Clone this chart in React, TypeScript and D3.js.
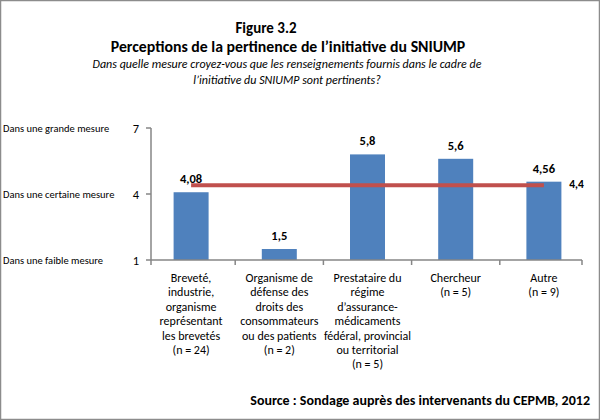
import React from "react";
import * as d3 from "d3";

const categories: string[][] = [
  ["Breveté,", "industrie,", "organisme", "représentant", "les brevetés", "(n = 24)"],
  ["Organisme de", "défense des", "droits des", "consommateurs", "ou des patients", "(n = 2)"],
  ["Prestataire du", "régime", "d’assurance-", "médicaments", "fédéral, provincial", "ou territorial", "(n = 5)"],
  ["Chercheur", "(n = 5)"],
  ["Autre", "(n = 9)"],
];
const values: number[] = [4.08, 1.5, 5.8, 5.6, 4.56];
const valueLabels: string[] = ["4,08", "1,5", "5,8", "5,6", "4,56"];
const average = 4.4;
const averageLabel = "4,4";
const yTicks: number[] = [1, 4, 7];
const yTickNames: string[] = ["Dans une faible mesure", "Dans une certaine mesure", "Dans une grande mesure"];

const FONT = "Carlito, Calibri, 'Liberation Sans', 'DejaVu Sans', sans-serif";

export default function App() {
  const W = 600, H = 420;
  const axisX0 = 151, axisX1 = 582;
  const x = d3.scaleBand<number>().domain(d3.range(values.length)).range([147, 588]).padding(0);
  const y = d3.scaleLinear().domain([1, 7]).range([260, 128]);
  const step = x.bandwidth();
  const bw = 35;
  const cx = (i: number) => (x(i) as number) + step / 2;

  return (
    <svg width={W} height={H} style={{ position: "absolute", left: 0, top: 0, background: "#fff" }} fontFamily={FONT}>
      <rect x={0.5} y={0.5} width={W - 1} height={H - 1} fill="#fff" stroke="#8c8c8c" strokeWidth={1.5} />
      <text x={266} y={33} textAnchor="middle" fontWeight="bold" fontSize={15}>Figure 3.2</text>
      <text x={288} y={52} textAnchor="middle" fontWeight="bold" fontSize={15.8}>Perceptions de la pertinence de l’initiative  du SNIUMP</text>
      <text x={287} y={68} textAnchor="middle" fontStyle="italic" fontSize={12}>Dans quelle mesure croyez-vous que les renseignements fournis dans  le cadre de</text>
      <text x={287} y={84} textAnchor="middle" fontStyle="italic" fontSize={12}>l’initiative du SNIUMP sont pertinents?</text>

      {yTicks.map((t, i) => (
        <g key={t}>
          <text x={3} y={y(t) + 4} fontSize={10.5}>{yTickNames[i]}</text>
          <text x={136} y={y(t) + 5} textAnchor="middle" fontSize={12.5}>{t}</text>
          <line x1={axisX0 - 5} x2={axisX0} y1={y(t)} y2={y(t)} stroke="#868686" strokeWidth={1.5} />
        </g>
      ))}

      {values.map((v, i) => (
        <g key={i}>
          <rect x={cx(i) - bw / 2} y={y(v)} width={bw} height={y(1) - y(v)} fill="#4F81BD" />
          <text x={cx(i)} y={y(v) - 9} textAnchor="middle" fontWeight="bold" fontSize={12.5}>{valueLabels[i]}</text>
        </g>
      ))}

      <line x1={axisX0} x2={axisX0} y1={y(7)} y2={y(1)} stroke="#868686" strokeWidth={1.5} />
      <line x1={axisX0} x2={axisX1} y1={y(1)} y2={y(1)} stroke="#868686" strokeWidth={1.5} />
      {[axisX0, ...d3.range(1, values.length).map((i) => x(i) as number), axisX1].map((tx, i) => (
        <line key={i} x1={tx} x2={tx} y1={y(1)} y2={y(1) + 5} stroke="#868686" strokeWidth={1.5} />
      ))}

      <line x1={cx(0)} x2={cx(values.length - 1)} y1={y(average)} y2={y(average)} stroke="#C0504D" strokeWidth={4} />
      <text x={576.5} y={y(average) + 3} textAnchor="middle" fontWeight="bold" fontSize={11.5}>{averageLabel}</text>

      {categories.map((lines, i) => (
        <text key={i} x={cx(i)} textAnchor="middle" fontSize={12}>
          {lines.map((l, j) => (
            <tspan key={j} x={cx(i)} y={282 + j * 14.4}>{l}</tspan>
          ))}
        </text>
      ))}

      <text x={590} y={405} textAnchor="end" fontWeight="bold" fontSize={14}>Source : Sondage auprès des intervenants du CEPMB, 2012</text>
    </svg>
  );
}
